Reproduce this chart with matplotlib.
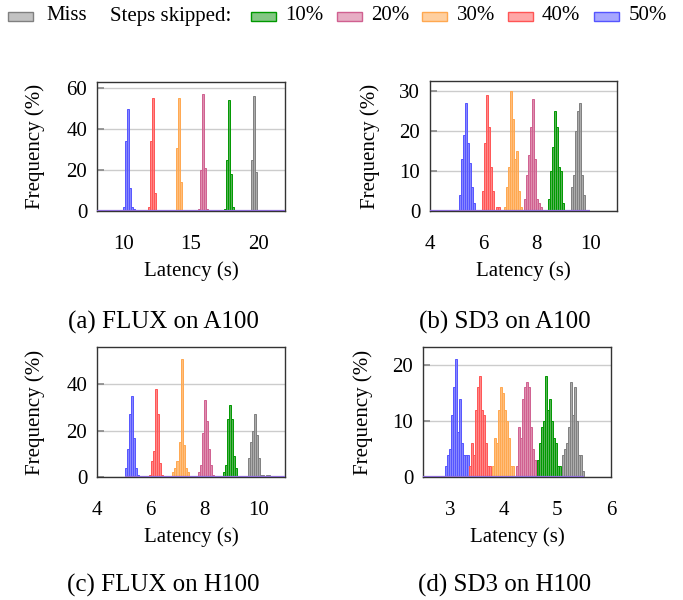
import matplotlib
matplotlib.use("Agg")
import matplotlib.pyplot as plt
from matplotlib.colors import to_rgba
from matplotlib.patches import Rectangle
import numpy as np

plt.rcParams['font.family'] = ['Liberation Serif', 'DejaVu Serif']
plt.rcParams['font.size'] = 15

# series order: Miss, 10%, 20%, 30%, 40%, 50%
series = ["Miss", "10%", "20%", "30%", "40%", "50%"]
fills = ["#909090", "#1f9a1f", "#d46a94", "#ffa850", "#ff6060", "#6060ff"]
edges = ["#808080", "#009900", "#d06090", "#ffa850", "#ff5555", "#5555ff"]

# (a) FLUX on A100
a_width = 0.15
a_start = [19.45, 17.45, 15.55, 13.85, 11.8, 9.95]
a_heights = [[25, 56, 19],
             [1, 25, 54, 18, 2],
             [1, 20, 57, 21, 1],
             [31, 55, 14],
             [2, 34, 55, 9],
             [2, 34, 50, 11, 2, 1]]

# (b) SD3 on A100
b_width = 0.075
b_start = [9.26, 8.41, 7.52, 6.76, 5.93, 5.07]
b_heights = [[6, 9, 20, 25, 27, 9, 4],
             [3, 10, 16, 25, 21, 11, 10, 2],
             [3, 9, 14, 21, 28, 13, 3, 2, 1],
             [1, 6, 11, 30, 23, 13, 15, 5, 1],
             [5, 17, 29, 21, 11, 5, 0, 1, 1],
             [4, 13, 19, 27, 17, 12, 6, 2]]

# (c) FLUX on H100
c_width = 0.075
c_start = [9.62, 8.68, 7.75, 6.81, 5.95, 5.05]
c_heights = [[8, 15, 20, 27, 18, 8, 1, 1, 0, 1, 1],
             [2, 5, 25, 31, 25, 9, 4],
             [2, 5, 19, 33, 24, 12, 5, 1],
             [2, 4, 7, 15, 51, 14, 4, 2],
             [1, 7, 11, 38, 27, 6, 1],
             [4, 12, 27, 35, 17, 4, 1]]

# (d) SD3 on H100
d_width = 0.037
d_start = [5.09, 4.63, 4.24, 3.78, 3.35, 2.91]
d_heights = [[4, 5, 6, 9, 17, 11, 16, 10, 4, 4, 1],
             [3, 6, 9, 10, 18, 12, 14, 10, 7, 6, 2, 2],
             [2, 9, 7, 14, 16, 17, 16, 9, 5, 3, 3],
             [2, 7, 6, 12, 16, 15, 12, 10, 7, 2, 2],
             [2, 6, 4, 12, 16, 18, 12, 11, 6, 2, 2],
             [2, 4, 5, 11, 16, 21, 8, 14, 6, 4, 4, 4]]

# zero-height bins drawn along the x axis
zero_spans = [(8, 22), (4, 10), (5.05, 11), (2.5, 5.5)]

panels = [
    dict(width=a_width, start=a_start, heights=a_heights, xlim=(8, 22), xticks=[10, 15, 20],
         ylim=(0, 63), yticks=[0, 20, 40, 60], rect=[97, 82, 285, 211],
         caption="(a) FLUX on A100", ylab_x=-0.277, cap_x=163),
    dict(width=b_width, start=b_start, heights=b_heights, xlim=(4, 11), xticks=[4, 6, 8, 10],
         ylim=(0, 32.6), yticks=[0, 10, 20, 30], rect=[430, 81, 617, 211],
         caption="(b) SD3 on A100", ylab_x=-0.267, cap_x=505),
    dict(width=c_width, start=c_start, heights=c_heights, xlim=(4, 11), xticks=[4, 6, 8, 10],
         ylim=(0, 56), yticks=[0, 20, 40], rect=[97, 347, 285, 477],
         caption="(c) FLUX on H100", ylab_x=-0.277, cap_x=163),
    dict(width=d_width, start=d_start, heights=d_heights, xlim=(2.5, 6), xticks=[3, 4, 5, 6],
         ylim=(0, 23.2), yticks=[0, 10, 20], rect=[423, 347, 611, 477],
         caption="(d) SD3 on H100", ylab_x=-0.266, cap_x=505),
]

W, H = 683, 600
fig = plt.figure(figsize=(W / 100, H / 100), dpi=100)

for p, span in zip(panels, zero_spans):
    l, t, r, b = p["rect"]
    ax = fig.add_axes([l / W, 1 - b / H, (r - l) / W, (b - t) / H])
    # draw 50% first, Miss last
    for k in reversed(range(len(series))):
        h = np.array(p["heights"][k], dtype=float)
        x = p["start"][k] + p["width"] * np.arange(len(h))
        ax.bar(x, h, width=p["width"], align="edge",
               facecolor=to_rgba(fills[k], 0.75), edgecolor=edges[k], linewidth=0.7, zorder=3)
    ax.plot(span, [0, 0], color="#8c6bd6", linewidth=1.6, zorder=4, solid_capstyle="butt")
    ax.set_xlim(*p["xlim"])
    ax.set_ylim(*p["ylim"])
    ax.set_xticks(p["xticks"])
    ax.set_yticks(p["yticks"])
    ax.grid(axis="y", color="#cccccc", linewidth=1.0, zorder=0)
    ax.set_axisbelow(True)
    ax.tick_params(axis="x", length=0, pad=17, labelsize=15)
    ax.tick_params(axis="y", direction="in", length=5, width=1.2, color="#888888", pad=7, labelsize=15)
    for s in ax.spines.values():
        s.set_color("#333333")
        s.set_linewidth(1.0)
    ax.set_xlabel("Latency (s)", fontsize=15)
    ax.xaxis.set_label_coords(0.5, -0.39)
    ax.set_ylabel("Frequency (%)", fontsize=15)
    ax.yaxis.set_label_coords(p["ylab_x"], 0.5)
    cy = 322 if t < 300 else 585
    fig.text(p["cap_x"] / W, 1 - cy / H, p["caption"], ha="center", va="center", fontsize=18)

# legend row across the top
def legend_patch(x0, color, edge):
    fig.patches.append(Rectangle((x0 / W, 1 - 21 / H), 25 / W, 9 / H, transform=fig.transFigure,
                                 facecolor=to_rgba(color, 0.55), edgecolor=edge, linewidth=1.0))

legend_x = [8, 251, 337, 422, 508, 594]
legend_text_x = [46, 285, 371, 457, 542, 629]
for k in range(len(series)):
    legend_patch(legend_x[k], fills[k], edges[k])
    fig.text(legend_text_x[k] / W, 1 - 16 / H, series[k], ha="left", va="center", fontsize=15)
fig.text(110 / W, 1 - 16 / H, "Steps skipped:", ha="left", va="center", fontsize=15)

fig.savefig("out.png", dpi=100)
